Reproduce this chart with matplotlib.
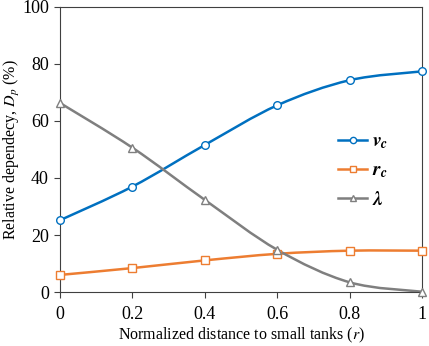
import numpy as np
import matplotlib
matplotlib.use("Agg")
import matplotlib.pyplot as plt
from matplotlib.path import Path
from matplotlib.patches import PathPatch
from matplotlib.lines import Line2D

plt.rcParams['font.family'] = ['Liberation Serif', 'DejaVu Serif']
plt.rcParams['mathtext.fontset'] = 'stix'

r = [0, 0.2, 0.4, 0.6, 0.8, 1.0]
v_c = [25.2, 37.0, 51.6, 65.5, 74.3, 77.4]
r_c = [6.0, 8.4, 11.1, 13.4, 14.5, 14.5]
lam = [66.3, 50.6, 32.3, 14.8, 3.4, 0.1]
labels = [r'$\mathbfit{v_c}$', r'$\mathbfit{r_c}$', r'$\mathbfit{\lambda}$']
colors = ['#0070C0', '#ED7D31', '#7F7F7F']
markers = ['o', 's', '^']

fig = plt.figure(figsize=(4.29, 3.46), dpi=100)
ax = fig.add_axes([0.140, 0.156, 0.844, 0.824])


def smooth_path(x, y, t=1/6):
    # Excel-style smoothed line: cubic Bezier segments (Catmull-Rom)
    x = np.asarray(x, float); y = np.asarray(y, float)
    n = len(x)
    verts = [(x[0], y[0])]
    codes = [Path.MOVETO]
    for i in range(n - 1):
        p0 = (x[i - 1], y[i - 1]) if i > 0 else (x[i], y[i])
        p1 = (x[i], y[i]); p2 = (x[i + 1], y[i + 1])
        p3 = (x[i + 2], y[i + 2]) if i + 2 < n else (x[i + 1], y[i + 1])
        c1 = (p1[0] + (p2[0] - p0[0]) * t, p1[1] + (p2[1] - p0[1]) * t)
        c2 = (p2[0] - (p3[0] - p1[0]) * t, p2[1] - (p3[1] - p1[1]) * t)
        verts += [c1, c2, p2]
        codes += [Path.CURVE4] * 3
    return Path(verts, codes)


handles = []
for ys, c, m, lab in zip([v_c, r_c, lam], colors, markers, labels):
    patch = PathPatch(smooth_path(r, ys), facecolor='none', edgecolor=c, lw=1.8,
                      transform=ax.transData, clip_on=False, zorder=2)
    ax.add_patch(patch)
    ax.plot(r, ys, linestyle='none', marker=m, markersize=5.5, markerfacecolor='white',
            markeredgecolor=c, markeredgewidth=1.0, clip_on=False, zorder=3)
    handles.append(Line2D([], [], color=c, lw=1.8, marker=m, markersize=4.5,
                          markerfacecolor='white', markeredgecolor=c, markeredgewidth=1.0))

ax.set_xlim(0, 1)
ax.set_ylim(0, 100)
ax.set_xticks([0, 0.2, 0.4, 0.6, 0.8, 1.0])
ax.set_xticklabels(['0', '0.2', '0.4', '0.6', '0.8', '1'])
ax.set_yticks([0, 20, 40, 60, 80, 100])
ax.tick_params(axis='both', direction='out', length=4, width=0.8, labelsize=13,
               color='#404040')
ax.tick_params(axis='x', pad=6)
ax.tick_params(axis='y', pad=4)
for s in ax.spines.values():
    s.set_color('#404040')
    s.set_linewidth(0.8)

ax.set_xlabel('Normalized distance to small tanks ($\\mathit{r}$)', fontsize=11.5, va='center')
ax.set_ylabel('Relative dependecy, $\\mathit{D_p}$ (%)', fontsize=11.5, va='center')
ax.xaxis.set_label_coords(0.5, -0.152)
ax.yaxis.set_label_coords(-0.133, 0.5)

leg = ax.legend(handles, labels, loc='center left', bbox_to_anchor=(0.768, 0.425),
                frameon=False, fontsize=14, handlelength=1.5, handletextpad=0.25,
                labelspacing=0.55, borderaxespad=0, borderpad=0)

fig.savefig('out.png', dpi=100)
